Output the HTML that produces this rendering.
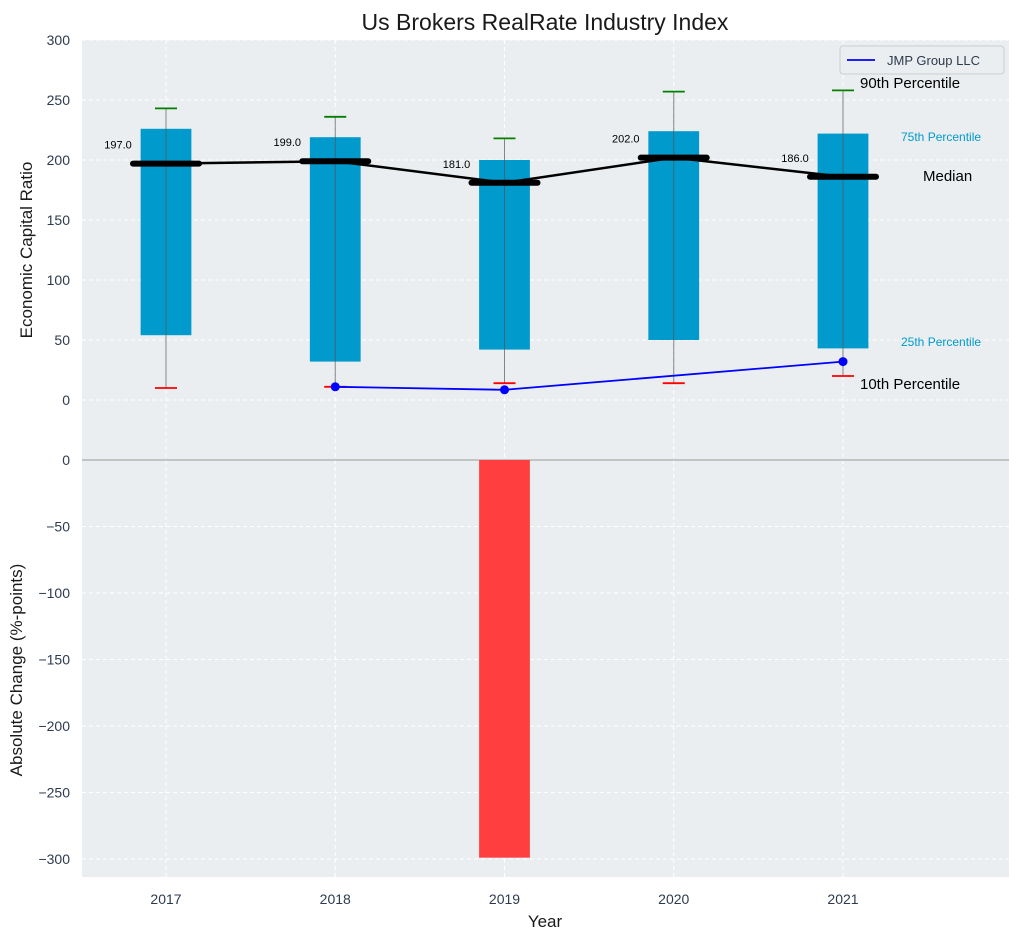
<!DOCTYPE html>
<html><head><meta charset="utf-8"><style>
body{margin:0;background:#fff;font-family:"Liberation Sans","DejaVu Sans",sans-serif}
svg text{font-family:"Liberation Sans","DejaVu Sans",sans-serif}
</style></head><body>
<svg id="c" width="1021" height="940" xmlns="http://www.w3.org/2000/svg"></svg>
<script>
const years=[2017,2018,2019,2020,2021];
const p10=[10,11,14,14,20];
const p25=[54,32,42,50,43];
const median=[197,199,181,202,186];
const p75=[226,219,200,224,222];
const p90=[243,236,218,257,258];
const jmpYears=[2018,2019,2021];
const jmpValues=[11,8.5,32];
const changes=[0,0,-299,0,0];
const topTicks=[0,50,100,150,200,250,300];
const botTicks=[-300,-250,-200,-150,-100,-50,0];

const NS='http://www.w3.org/2000/svg';
const svg=document.getElementById('c');
function el(t,a,txt){const e=document.createElementNS(NS,t);for(const k in a)e.setAttribute(k,a[k]);if(txt!==undefined)e.textContent=txt;svg.appendChild(e);return e;}
const L=82,R=1009;
const x=v=>166+(v-2017)*169.25;
const yT=v=>400-v*1.2;
const yB=v=>460-v*(399/300);

let e=el('rect',{x:L,y:40,width:R-L,height:420,fill:'#eaeef0'});

e=el('rect',{x:L,y:460,width:R-L,height:417,fill:'#eaeef0'});


topTicks.forEach(t=>{
 e=el('line',{x1:L,x2:R,y1:yT(t),y2:yT(t),stroke:'#fff','stroke-dasharray':'4,3','stroke-width':1});
 
 e=el('text',{x:70,y:yT(t)+5,'text-anchor':'end','font-size':14,fill:'#2e3b4e'},t);
 
});
botTicks.forEach(t=>{
 e=el('line',{x1:L,x2:R,y1:yB(t),y2:yB(t),stroke:'#fff','stroke-dasharray':'4,3','stroke-width':1});
 
 e=el('text',{x:70,y:yB(t)+5,'text-anchor':'end','font-size':14,fill:'#2e3b4e'},t.toString().replace('-','\u2212'));
 
});
years.forEach(yr=>{
 e=el('line',{x1:x(yr),x2:x(yr),y1:40,y2:877,stroke:'#fff','stroke-dasharray':'4,3','stroke-width':1});
 
 e=el('text',{x:x(yr),y:904,'text-anchor':'middle','font-size':14,fill:'#2e3b4e'},yr);
 
});
e=el('line',{x1:L,x2:R,y1:460,y2:460,stroke:'#aaa','stroke-width':1.2});


const bw=0.3*169.25;
years.forEach((yr,i)=>{
 const cx=x(yr);
 e=el('rect',{x:cx-bw/2,y:yT(p75[i]),width:bw,height:yT(p25[i])-yT(p75[i]),fill:'#009acd'});
 
 e=el('line',{x1:cx,x2:cx,y1:yT(p90[i]),y2:yT(p10[i]),stroke:'#555','stroke-width':1,opacity:0.7});
 
 e=el('line',{x1:cx-11,x2:cx+11,y1:yT(p90[i]),y2:yT(p90[i]),stroke:'green','stroke-width':1.8});
 
 e=el('line',{x1:cx-11,x2:cx+11,y1:yT(p10[i]),y2:yT(p10[i]),stroke:'red','stroke-width':1.8});
 
 e=el('line',{x1:cx-33,x2:cx+33,y1:yT(median[i]),y2:yT(median[i]),stroke:'#000','stroke-width':6,'stroke-linecap':'round'});
 
 e=el('text',{x:cx-48,y:yT(median[i])-15,'text-anchor':'middle','font-size':11,fill:'#000'},median[i].toFixed(1));
 
 if(changes[i]!==0){
  const y0=yB(0),y1=yB(changes[i]);
  e=el('rect',{x:cx-bw/2,y:Math.min(y0,y1),width:bw,height:Math.abs(y1-y0),fill:changes[i]<0?'#ff3f3f':'#3fbf3f'});
  
 }
});
e=el('polyline',{points:years.map((yr,i)=>x(yr)+','+yT(median[i])).join(' '),fill:'none',stroke:'#000','stroke-width':2.5});

e=el('polyline',{points:jmpYears.map((yr,i)=>x(yr)+','+yT(jmpValues[i])).join(' '),fill:'none',stroke:'blue','stroke-width':1.8});

jmpYears.forEach((yr,i)=>{
 e=el('circle',{cx:x(yr),cy:yT(jmpValues[i]),r:4.5,fill:'blue'});
 
});
const lab=(t,xx,yy,fs,c,n)=>{e=el('text',{x:xx,y:yy,'font-size':fs,fill:c},t);};
lab('90th Percentile',860,88,15,'#000','p90-label');
lab('75th Percentile',901,141,12,'#009acd','p75-label');
lab('Median',923,181,15,'#000','median-text-label');
lab('25th Percentile',901,346,12,'#009acd','p25-label');
lab('10th Percentile',860,389,15,'#000','p10-label');
e=el('rect',{x:840,y:46,width:164,height:28,fill:'#eaeef0',stroke:'#ccc',rx:3});

e=el('line',{x1:847,x2:875,y1:60,y2:60,stroke:'blue','stroke-width':1.8});

lab('JMP Group LLC',887,65,13,'#2e3b4e','legend-entry');
e=el('text',{x:545,y:30,'text-anchor':'middle','font-size':23,fill:'#1a1a1a'},'Us Brokers RealRate Industry Index');

e=el('text',{x:545,y:927,'text-anchor':'middle','font-size':17,fill:'#1a1a1a'},'Year');

e=el('text',{x:32,y:250,'text-anchor':'middle','font-size':17,fill:'#1a1a1a',transform:'rotate(-90 32 250)'},'Economic Capital Ratio');

e=el('text',{x:22,y:670,'text-anchor':'middle','font-size':17,fill:'#1a1a1a',transform:'rotate(-90 22 670)'},'Absolute Change (%-points)');

</script>
</body></html>
